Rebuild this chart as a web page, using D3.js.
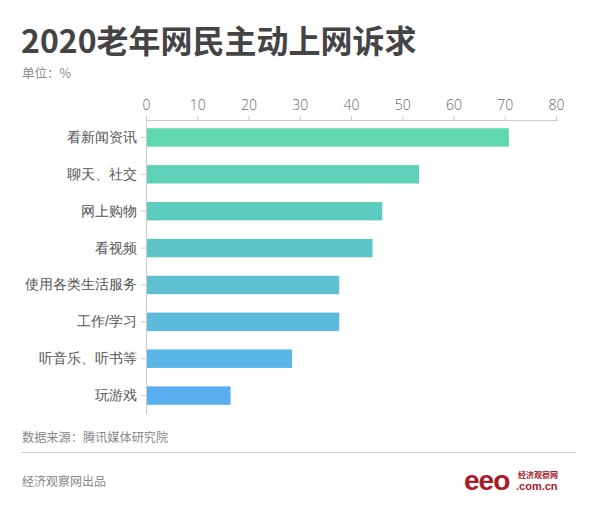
<!DOCTYPE html>
<html><head><meta charset="utf-8">
<script src="https://cdn.jsdelivr.net/npm/d3@7"></script>
<style>
body{margin:0;background:#fff;}
svg{display:block;font-family:"Noto Sans CJK SC","Noto Sans",sans-serif;}
</style></head>
<body>
<script>
const categories = ["看新闻资讯","聊天、社交","网上购物","看视频","使用各类生活服务","工作/学习","听音乐、听书等","玩游戏"];
const values = [70.8, 53.3, 46.1, 44.2, 37.7, 37.7, 28.5, 16.5];
const xTicks = [0,10,20,30,40,50,60,70,80];
const title = "2020老年网民主动上网诉求";
const unitText = "单位：%";
const sourceText = "数据来源：腾讯媒体研究院";
const creditText = "经济观察网出品";

const W = 600, H = 510;
const svg = d3.select("body").append("svg").attr("width", W).attr("height", H);

svg.append("text").attr("x", 21).attr("y", 53).text(title)
  .attr("font-size", 32).attr("font-weight", 700).attr("fill", "#444");
svg.append("text").attr("x", 22).attr("y", 78).text(unitText)
  .attr("font-size", 12.5).attr("fill", "#888");

const x = d3.scaleLinear().domain([0, 80]).range([146, 556]);
const y = d3.scaleBand().domain(categories).range([119, 414]).paddingInner(0.5).paddingOuter(0.25);

const colorScale = d3.scaleLinear().domain([0, categories.length - 1])
  .range(["#60d7ac", "#5aaef0"]).interpolate(d3.interpolateRgb);

svg.append("g").selectAll("rect").data(values).join("rect")
  .attr("x", x(0)).attr("y", (d, i) => y(categories[i]))
  .attr("width", d => x(d) - x(0)).attr("height", y.bandwidth())
  .attr("fill", (d, i) => colorScale(i));

const xAxis = svg.append("g").attr("transform", "translate(0,120)")
  .call(d3.axisTop(x).tickValues(xTicks).tickSize(4).tickPadding(6));
xAxis.select(".domain").attr("stroke", "#ccc").attr("d", "M146,0.5H558");
xAxis.selectAll(".tick line").attr("stroke", "#ccc");
xAxis.selectAll(".tick text").attr("font-size", 14).attr("fill", "#666")
  .attr("font-family", "'Open Sans','Noto Sans',sans-serif").attr("font-weight", 300);

const yAxis = svg.append("g").attr("transform", "translate(146,0)")
  .call(d3.axisLeft(y).tickSize(5).tickPadding(4));
yAxis.select(".domain").attr("stroke", "#ccc").attr("d", "M0.5,120V414");
yAxis.selectAll(".tick line").attr("stroke", "#ccc");
yAxis.selectAll(".tick text").attr("font-size", 14).attr("fill", "#555");

svg.append("text").attr("x", 22).attr("y", 442).text(sourceText)
  .attr("font-size", 12.2).attr("fill", "#888");
svg.append("line").attr("x1", 22).attr("x2", 576).attr("y1", 452.5).attr("y2", 452.5)
  .attr("stroke", "#ccc");
svg.append("text").attr("x", 22).attr("y", 486).text(creditText)
  .attr("font-size", 12).attr("fill", "#888");

// logo
svg.append("text").attr("x", 464).attr("y", 490).text("eeo")
  .attr("font-family", "'Liberation Sans',Arial,sans-serif").attr("font-weight", 700)
  .attr("font-size", 28).attr("fill", "#a81c2a").attr("letter-spacing", -1);
svg.append("text").attr("x", 518).attr("y", 478).text("经济观察网")
  .attr("font-size", 8).attr("font-weight", 700).attr("fill", "#a81c2a");
svg.append("text").attr("x", 516).attr("y", 490).text(".com.cn")
  .attr("font-family", "'Liberation Sans',Arial,sans-serif").attr("font-weight", 700)
  .attr("font-size", 11).attr("fill", "#a81c2a");
</script>
</body></html>
